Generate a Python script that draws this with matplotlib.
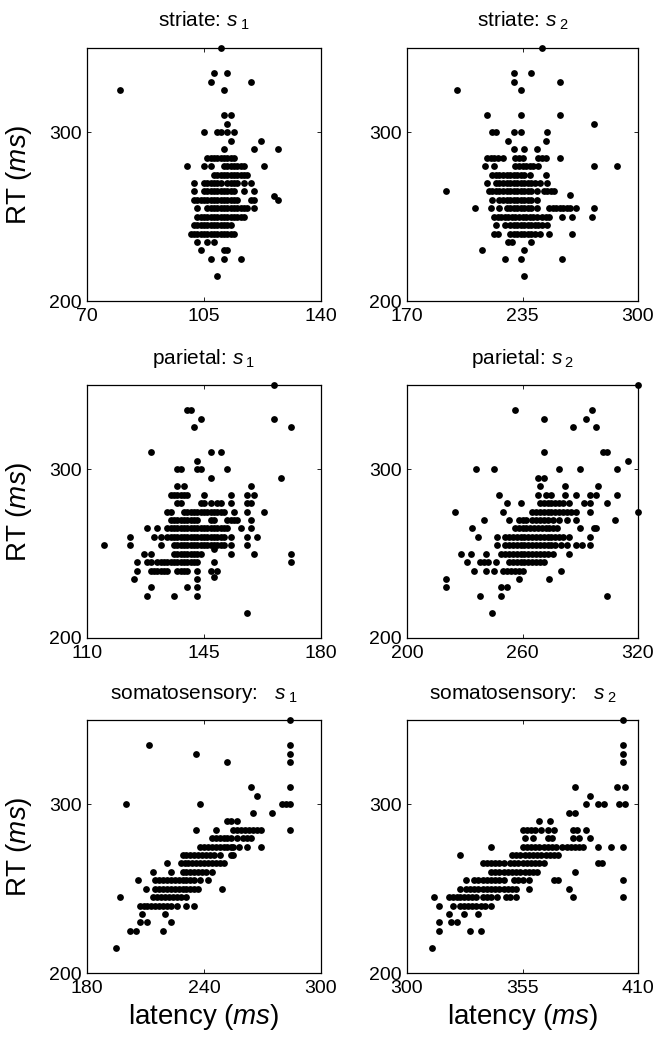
import matplotlib
matplotlib.use("Agg")
import matplotlib.pyplot as plt

plt.rcParams['font.family'] = ['Liberation Sans', 'DejaVu Sans']
plt.rcParams['mathtext.fontset'] = 'custom'
plt.rcParams['mathtext.rm'] = 'Liberation Sans'
plt.rcParams['mathtext.it'] = 'Liberation Sans:italic'

# RT (ms) -> latencies (ms)

striate_s1 = {
    350: [110],
    335: [108, 112],
    330: [107, 119],
    325: [80, 111],
    310: [111, 113],
    305: [112],
    300: [105, 109, 110, 112, 114],
    295: [113, 122],
    290: [111, 120, 127],
    285: [106, 107, 108, 109, 110, 111, 112, 113, 114],
    280: [100, 105, 107, 111, 112, 113, 114, 115, 116, 117, 123],
    275: [108, 109, 110, 111, 112, 113, 114, 115, 116, 117, 118],
    270: [102, 105, 106, 107, 108, 109, 110, 112, 113, 114, 115, 117, 119],
    265: [102, 105, 106, 107, 108, 109, 110, 111, 112, 113, 114, 117, 120],
    262: [126],
    260: [102, 103, 104, 105, 106, 107, 108, 109, 110, 111, 112, 113, 114, 115, 119, 120, 127],
    255: [103, 106, 107, 108, 109, 110, 111, 112, 113, 114, 115, 116, 117, 118, 120],
    250: [103, 104, 105, 106, 107, 108, 109, 110, 111, 112, 113, 114, 115, 116, 117],
    245: [102, 103, 104, 105, 106, 107, 108, 109, 110, 111, 112, 113],
    240: [101, 102, 103, 104, 105, 106, 107, 108, 109, 110, 111, 112, 113, 114],
    235: [103, 106, 108],
    230: [104, 111, 112],
    225: [107, 111, 116],
    215: [109],
}

striate_s2 = {
    350: [246],
    335: [230, 240],
    330: [230, 256],
    325: [198, 234],
    310: [215, 234, 256],
    305: [275],
    300: [218, 220, 230, 234, 249],
    295: [227, 248],
    290: [230, 236, 243],
    285: [215, 217, 219, 221, 224, 231, 233, 235, 244, 246, 248, 256],
    280: [214, 219, 231, 233, 235, 237, 239, 241, 244, 275, 288],
    275: [218, 220, 222, 224, 226, 228, 230, 232, 234, 236, 239, 248],
    270: [215, 220, 222, 224, 226, 228, 230, 232, 234, 236, 238, 240, 242, 245, 249],
    265: [192, 216, 218, 220, 222, 224, 226, 228, 230, 232, 234, 236, 238, 240, 243,
          247, 249, 251, 253],
    263: [262],
    260: [218, 222, 224, 226, 228, 230, 232, 234, 236, 238, 240, 243],
    255: [208, 217, 222, 226, 228, 230, 232, 234, 236, 238, 240, 243, 250, 252, 254,
          256, 258, 260, 262, 265, 275],
    250: [219, 221, 223, 225, 227, 229, 231, 233, 235, 237, 239, 241, 243, 246, 248,
          250, 257, 263, 274],
    245: [220, 225, 228, 230, 232, 234, 236, 238, 240, 242, 244, 246, 249],
    240: [219, 221, 228, 230, 232, 234, 236, 238, 240, 242, 245, 250, 263],
    235: [227, 229, 240],
    230: [212, 236],
    225: [225, 234, 257],
    215: [236],
}

parietal_s1 = {
    350: [166],
    335: [140, 141],
    330: [144, 166],
    325: [142, 171],
    310: [129, 147, 150],
    305: [143],
    300: [137, 138, 143, 144, 152],
    295: [147, 168],
    290: [137, 139, 159],
    285: [135, 136, 137, 138, 139, 140, 145, 153, 158, 160],
    280: [137, 138, 144, 145, 147, 149, 150, 153, 158, 159],
    275: [134, 135, 139, 140, 141, 142, 143, 144, 145, 146, 147, 148, 149, 150, 151,
          154, 158, 163],
    270: [135, 136, 137, 138, 139, 140, 141, 142, 143, 147, 148, 152, 153, 154, 155, 159],
    265: [128, 131, 134, 135, 136, 137, 138, 139, 140, 141, 142, 143, 144, 145, 146,
          147, 148, 149, 150, 151, 152, 156, 159],
    260: [123, 130, 132, 134, 135, 136, 137, 138, 139, 140, 141, 142, 143, 144, 145,
          146, 147, 148, 149, 150, 151, 153, 158, 161],
    255: [115, 123, 132, 136, 137, 138, 139, 140, 141, 142, 143, 144, 145, 146, 147,
          148, 149, 150, 151, 153, 158],
    253: [148],
    250: [127, 129, 136, 137, 138, 139, 140, 141, 142, 143, 144, 153, 160, 171],
    245: [125, 128, 129, 131, 132, 133, 134, 135, 136, 137, 138, 139, 140, 141, 142,
          143, 148, 171],
    240: [125, 129, 130, 131, 132, 133, 134, 137, 138, 139, 140, 143, 147, 149],
    236: [148],
    235: [124, 143],
    230: [129, 140, 143],
    225: [128, 136, 143],
    215: [158],
}

parietal_s2 = {
    350: [320],
    335: [256, 296],
    330: [271, 293],
    325: [286, 298],
    310: [271, 302, 304],
    305: [315],
    300: [236, 245, 279, 290, 309],
    295: [268, 271],
    290: [269, 282, 299],
    285: [248, 268, 272, 275, 282, 288, 295, 298, 309],
    280: [252, 259, 269, 271, 273, 275, 277, 279, 281, 284, 292, 295, 304],
    275: [225, 250, 265, 267, 269, 271, 273, 275, 277, 279, 281, 283, 285, 288, 295, 320],
    270: [240, 253, 258, 260, 262, 265, 267, 269, 271, 273, 276, 279, 283, 288, 308],
    265: [234, 256, 258, 260, 262, 264, 266, 268, 270, 272, 274, 276, 278, 290, 297, 298],
    260: [237, 247, 251, 253, 255, 257, 259, 261, 263, 265, 267, 269, 271, 273, 275,
          277, 279, 281, 284, 295],
    255: [247, 251, 253, 255, 257, 259, 261, 263, 265, 267, 269, 271, 273, 275, 277,
          280, 283, 288, 291, 295],
    250: [228, 233, 241, 249, 251, 253, 255, 257, 259, 261, 263, 265, 267, 269, 271,
          273, 276, 284],
    245: [231, 238, 240, 242, 246, 253, 255, 257, 259, 261, 263, 265, 267, 269, 271],
    240: [235, 241, 245, 250, 252, 254, 256, 258, 260, 280],
    235: [220, 258, 274],
    230: [220, 249, 252],
    225: [238, 249, 304],
    215: [244],
}

somato_s1 = {
    350: [284],
    335: [212, 284],
    330: [236, 284],
    325: [252, 284],
    310: [264, 284],
    305: [267],
    300: [200, 238, 280, 282, 284],
    295: [265, 275],
    290: [252, 254, 257],
    285: [236, 246, 255, 257, 259, 261, 263, 265, 267, 269, 284],
    280: [244, 246, 248, 250, 252, 254, 257, 260, 262, 264],
    275: [238, 240, 242, 244, 246, 248, 250, 252, 254, 255, 258, 262, 269],
    270: [229, 231, 233, 235, 237, 239, 241, 243, 245, 248, 254, 255],
    265: [221, 228, 230, 232, 234, 236, 238, 240, 242, 244, 246, 248, 250],
    260: [214, 223, 229, 231, 233, 235, 237, 239, 241, 244],
    255: [206, 215, 217, 219, 221, 223, 225, 227, 229, 231, 233, 235, 238, 242],
    250: [210, 215, 217, 219, 221, 223, 225, 227, 229, 231, 233, 235, 237, 249],
    245: [197, 214, 216, 218, 220, 222, 224, 226, 228, 231],
    240: [207, 209, 211, 213, 215, 217, 219, 221, 223, 226, 231, 235],
    235: [208, 220],
    230: [207, 211, 223],
    225: [202, 205, 219],
    215: [195],
}

somato_s2 = {
    350: [403],
    335: [403],
    330: [403],
    325: [403],
    310: [380, 400, 404],
    305: [387],
    300: [385, 391, 394, 401, 404],
    295: [377, 380],
    290: [363, 368],
    285: [355, 357, 359, 361, 364, 367, 370, 379, 381, 385],
    280: [356, 360, 367, 369, 379, 382, 387],
    275: [340, 355, 357, 359, 361, 363, 365, 367, 369, 371, 374, 376, 378, 380, 382,
          384, 391, 397, 403],
    270: [325, 350, 352, 354, 356, 358, 360, 362, 364, 366, 368, 370, 372],
    265: [336, 338, 340, 342, 344, 346, 349, 351, 353, 355, 357, 359, 361, 363, 365,
          391, 393],
    260: [340, 342, 344, 346, 348, 350, 352, 354, 356, 358, 360, 362, 380],
    255: [328, 332, 334, 336, 338, 340, 342, 344, 346, 351, 353, 355, 358, 370, 372, 403],
    250: [325, 328, 330, 332, 334, 336, 338, 340, 342, 344, 346, 348, 350, 352, 358, 377],
    245: [313, 320, 322, 324, 325, 327, 329, 331, 333, 336, 338, 340, 343, 347, 349,
          352, 379, 403],
    240: [315, 322, 325, 327, 329, 331, 333, 335, 337, 340],
    235: [320, 327, 334],
    230: [315, 321, 324],
    225: [315, 330, 335],
    215: [312],
}

titles = ['striate: $s_{\\;\\mathit{1}}$', 'striate: $s_{\\;\\mathit{2}}$',
          'parietal: $s_{\\;\\mathit{1}}$', 'parietal: $s_{\\;\\mathit{2}}$',
          'somatosensory:   $s_{\\;\\mathit{1}}$', 'somatosensory:   $s_{\\;\\mathit{2}}$']
xticks = [[70, 105, 140], [170, 235, 300],
          [110, 145, 180], [200, 260, 320],
          [180, 240, 300], [300, 355, 410]]
panels = [striate_s1, striate_s2, parietal_s1, parietal_s2, somato_s1, somato_s2]

W, H = 656, 1040
fig = plt.figure(figsize=(W / 100, H / 100), dpi=100)

lefts = [87, 407]
widths = [234, 231]
tops = [48, 385, 720]
ax_h = 253

for i, data in enumerate(panels):
    row, col = divmod(i, 2)
    rect = [lefts[col] / W, 1 - (tops[row] + ax_h) / H, widths[col] / W, ax_h / H]
    ax = fig.add_axes(rect)
    lat = [x for rt, xs in data.items() for x in xs]
    rts = [rt for rt, xs in data.items() for x in xs]
    ax.scatter(lat, rts, s=24, c='black', marker='o', linewidths=0, clip_on=False)
    ax.set_xlim(xticks[i][0], xticks[i][-1])
    ax.set_ylim(200, 350)
    ax.set_xticks(xticks[i])
    ax.set_yticks([200, 300])
    ax.tick_params(direction='in', length=3, width=0.6, top=True, right=True,
                   labelsize=14)
    ax.tick_params(axis='x', pad=5)
    ax.tick_params(axis='y', pad=4)
    for sp in ax.spines.values():
        sp.set_linewidth(0.9)
    ax.set_title(titles[i], fontsize=15, pad=15)
    if col == 0:
        ax.set_ylabel('RT ($ms$)', fontsize=20)
        ax.yaxis.set_label_coords(-0.226, 0.5)
    if row == 2:
        ax.set_xlabel('latency ($ms$)', fontsize=20, labelpad=4)

fig.savefig('out.png', dpi=100)
